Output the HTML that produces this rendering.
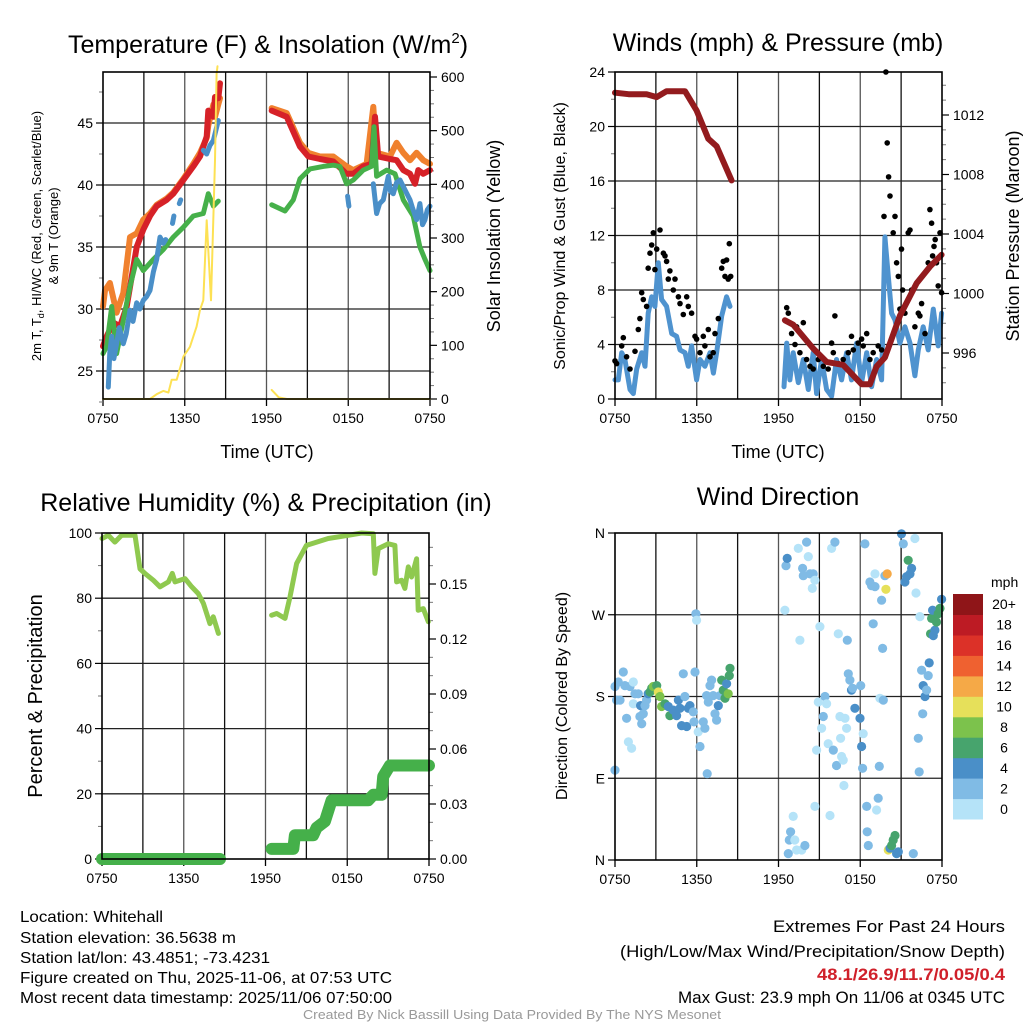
<!DOCTYPE html>
<html><head><meta charset="utf-8"><style>
html,body{margin:0;padding:0;background:#fff;}
svg{display:block;font-family:"Liberation Sans",Arial,sans-serif;}
.tk{font-size:14px;fill:#000;}
.ttl{font-size:25px;fill:#000;}
.ax{font-size:18px;fill:#000;}
.ft{font-family:"Liberation Sans",sans-serif;font-size:16px;fill:#000;}
.fr{font-family:"Liberation Sans",sans-serif;font-size:17px;fill:#000;}
</style></head><body>
<svg id="c" width="1024" height="1024" viewBox="0 0 1024 1024" xmlns="http://www.w3.org/2000/svg">
<text class="ttl" x="268" y="53" text-anchor="middle">Temperature (F) &amp; Insolation (W/m<tspan dy="-10" font-size="15">2</tspan><tspan dy="10">)</tspan></text>
<text class="ttl" x="778" y="51" text-anchor="middle">Winds (mph) &amp; Pressure (mb)</text>
<text class="ttl" x="266" y="511" text-anchor="middle">Relative Humidity (%) &amp; Precipitation (in)</text>
<text class="ttl" x="778" y="505" text-anchor="middle">Wind Direction</text>
<text class="ax" x="267" y="458" text-anchor="middle">Time (UTC)</text>
<text class="ax" x="778" y="458" text-anchor="middle">Time (UTC)</text>
<text font-size="13" transform="translate(41,236) rotate(-90)" text-anchor="middle">2m T, T<tspan font-size="9" dy="3">d</tspan><tspan dy="-3">, HI/WC (Red, Green, Scarlet/Blue)</tspan></text>
<text font-size="13" transform="translate(58,236) rotate(-90)" text-anchor="middle">&amp; 9m T (Orange)</text>
<text class="ax" transform="translate(500,236) rotate(-90)" text-anchor="middle">Solar Insolation (Yellow)</text>
<text font-size="16" transform="translate(565,236) rotate(-90)" text-anchor="middle">Sonic/Prop Wind &amp; Gust (Blue, Black)</text>
<text class="ax" transform="translate(1019,236) rotate(-90)" text-anchor="middle">Station Pressure (Maroon)</text>
<text font-size="20" transform="translate(42,696) rotate(-90)" text-anchor="middle">Percent &amp; Precipitation</text>
<text font-size="16" transform="translate(567,696) rotate(-90)" text-anchor="middle">Direction (Colored By Speed)</text>
<g id="foot">
<text class="ft" x="20" y="922" textLength="143" lengthAdjust="spacingAndGlyphs">Location: Whitehall</text>
<text class="ft" x="20" y="943" textLength="216" lengthAdjust="spacingAndGlyphs">Station elevation: 36.5638 m</text>
<text class="ft" x="20" y="963" textLength="250" lengthAdjust="spacingAndGlyphs">Station lat/lon: 43.4851; -73.4231</text>
<text class="ft" x="20" y="983" textLength="372" lengthAdjust="spacingAndGlyphs">Figure created on Thu, 2025-11-06, at 07:53 UTC</text>
<text class="ft" x="20" y="1003" textLength="372" lengthAdjust="spacingAndGlyphs">Most recent data timestamp: 2025/11/06 07:50:00</text>
<text class="fr" x="773" y="932" textLength="232" lengthAdjust="spacingAndGlyphs">Extremes For Past 24 Hours</text>
<text class="fr" x="620" y="957" textLength="385" lengthAdjust="spacingAndGlyphs">(High/Low/Max Wind/Precipitation/Snow Depth)</text>
<text class="fr" x="817" y="980" textLength="188" lengthAdjust="spacingAndGlyphs" font-weight="bold" style="fill:#d0202a">48.1/26.9/11.7/0.05/0.4</text>
<text class="fr" x="678" y="1003" textLength="327" lengthAdjust="spacingAndGlyphs">Max Gust: 23.9 mph On 11/06 at 0345 UTC</text>
<text x="303" y="1019" textLength="418" lengthAdjust="spacingAndGlyphs" font-size="13" fill="#999">Created By Nick Bassill Using Data Provided By The NYS Mesonet</text>
</g>
</svg>
<script>
// ---------- data ----------
const xTickLabels = ["0750","1350","1950","0150","0750"];
const xTickHours = [0,6,12,18,24];
// Temperature panel
const redT = [0,0.27,0.76,1.25,1.74,2.23,2.47,2.96,3.45,3.94,4.67,5.16,5.9,6.63,7.12,7.61,7.73,8.1,8.22,8.46,8.59,null,12.38,13.48,14.46,15.07,15.92,16.9,17.88,18.37,19.1,19.71,19.96,20.2,21.06,21.55,22.04,22.53,22.9,23.14,23.51,24];
const redV = [27.0,27.8,28.9,28.6,30.2,33.4,35.0,36.4,37.5,38.3,38.8,39.3,40.4,41.5,42.3,43.9,46.0,45.5,47.1,47.0,48.2,null,46.0,45.5,43.1,42.3,42.1,41.9,40.9,40.9,41.5,41.7,45.5,42.3,42.1,42.0,41.2,40.9,40.1,41.2,40.9,41.2];
const orangeT = [0,0.15,0.51,1.0,1.49,1.98,2.47,2.96,3.45,3.94,4.67,5.16,5.9,6.63,7.12,7.61,7.73,8.1,8.22,8.46,8.59,null,12.38,13.48,14.46,15.07,15.92,16.9,17.88,18.37,19.35,19.84,20.08,21.06,21.55,22.04,22.53,23.02,23.51,24];
const orangeV = [30.2,31.5,32.1,29.7,31.3,35.8,36.1,37.2,37.7,38.4,38.9,39.4,40.5,41.7,42.6,43.8,44.8,46.5,45.5,46.5,47.0,null,46.2,45.8,43.4,42.6,42.3,42.3,41.5,41.2,41.7,46.3,42.6,42.3,43.4,42.6,42.0,42.6,42.0,41.7];
const greenT = [0,0.27,0.64,1.0,1.49,1.98,2.47,2.96,3.69,4.43,5.16,5.9,6.63,7.36,7.73,8.1,8.46,null,12.38,13.36,13.97,14.46,15.19,16.17,16.9,17.39,17.88,18.37,19.1,19.71,19.89,20.08,20.82,21.43,22.04,22.77,23.26,23.63,24];
const greenV = [26.4,27.0,30.2,26.4,29.1,31.8,34.0,33.1,34.0,34.8,35.8,36.6,37.5,37.7,39.3,38.3,38.7,null,38.4,37.9,38.8,40.5,41.3,41.5,41.6,41.5,40.1,40.4,41.2,41.5,44.7,40.7,41.2,40.9,38.8,37.5,35.0,34.0,33.1];
const blueT = [0.39,0.5,0.64,0.8,1.0,1.2,1.49,1.7,1.98,2.2,2.47,2.7,2.96,3.2,3.45,3.7,3.94,4.18,4.43,4.6,null,5.1,5.2,null,5.6,5.7,null,7.36,7.61,7.85,8.1,8.46,null,17.95,18.05,null,19.84,20.08,20.3,20.57,20.94,21.1,21.31,21.55,21.8,22.53,22.7,23.02,23.26,23.45,23.63,23.8,24];
const blueV = [23.7,26.5,27.8,26.0,27.2,28.5,27.2,28.0,29.9,29.0,30.5,30.0,30.7,31.0,31.5,33.0,34.0,35.8,35.3,35.6,null,36.9,37.5,null,38.5,38.8,null,42.8,42.5,43.2,43.6,45.2,null,39.1,38.3,null,40.1,37.7,38.5,38.8,40.7,39.5,39.3,40.2,40.4,38.8,38.2,37.2,38.5,36.8,37.2,38.0,38.3];
const solarT = [0,3.45,3.94,4.43,4.8,5.04,5.41,5.9,6.38,6.87,7.12,7.36,7.61,7.93,8.22,8.34,8.4,null,12.38,12.9,13.5,24];
const solarV = [0,0,9,15,12,36,36,79,97,135,166,184,333,184,445,606,620,null,17,3,0,0];
// Wind panel
const windT = [0,0.24,0.49,0.73,1.1,1.34,1.59,1.96,2.2,2.44,2.69,2.93,3.18,3.42,3.79,4.16,4.52,4.77,5.14,5.38,5.62,5.99,6.24,6.6,6.97,7.22,7.46,7.83,8.19,8.44,null,12.4,12.6,12.84,13.08,13.45,13.82,14.19,14.55,14.8,15.16,15.53,15.9,16.26,16.63,17.0,17.36,17.73,18.1,18.47,18.83,19.2,19.57,19.81,20.06,20.3,20.55,20.91,21.28,21.65,22.01,22.26,22.62,22.99,23.36,23.72,23.97];
const windV = [1.4,1.4,3.4,2.9,0.7,0.4,2.2,3.4,2.4,6.3,7.5,6.8,10,7.3,6.8,4.8,4.6,3.6,3.4,2.4,3.9,1.4,2.9,2.4,3.4,1.9,3.4,6.1,7.5,6.8,null,0.9,4.1,1.4,3.4,1.2,2.9,0.7,3.4,0.4,2.9,0.7,0.2,2.9,1.4,3.4,1.4,4.1,1.2,3.4,0.9,2.9,1.4,11.9,9.0,6.3,5.8,4.1,5.3,4.1,1.7,3.6,5.3,3.6,6.6,3.9,6.3];
const gustT = [0,0.12,0.49,0.61,0.85,1.1,1.47,1.71,1.83,1.96,2.08,2.32,2.44,2.57,2.69,2.81,2.93,3.06,3.3,3.55,3.67,3.79,3.91,4.03,4.28,4.4,4.65,4.77,5.01,5.26,5.38,5.62,5.87,5.99,6.24,6.48,6.6,6.85,6.97,7.21,7.34,7.58,7.83,7.95,8.07,8.19,8.31,8.39,8.49,
 12.6,12.72,12.96,13.21,13.33,13.57,13.82,14.06,14.31,14.55,14.92,15.29,15.65,15.9,16.02,16.14,16.39,16.75,17.12,17.36,17.49,17.85,18.1,18.22,18.47,18.71,18.95,19.32,19.57,19.74,19.88,19.98,20.08,20.18,20.42,20.55,20.67,20.79,20.91,21.03,21.11,21.28,21.52,21.65,21.77,22.01,22.26,22.38,22.5,22.75,22.99,23.11,23.24,23.31,23.41,23.5,23.6,23.72,23.85,23.97];
const gustV = [2.8,2.6,3.9,4.5,3.1,2.2,3.5,5.1,5.9,7.8,7.3,6.8,9.6,10.7,11.3,12.2,9.5,11,12.4,10.7,10.5,10.1,8.8,9.4,8,8.8,7.5,7,6.2,7.5,6.8,6.3,4.6,4.4,3.4,4.6,3.9,5.1,3.1,3.4,4.8,5.9,9.6,10.1,9,10.2,8.8,11.4,9,
 6.7,6.3,4.8,4,5.3,3.4,5.6,2.9,2.4,2.2,2.9,2.4,2.2,4.1,3.4,6.1,2.6,2.9,3.4,4.6,3.6,4.1,4.4,3.9,4.8,2.9,3.4,3.9,3.6,13.4,24,18.8,16.3,14.9,12.2,13.4,10,9,6.6,11,8,6.3,12.2,12.4,8,5.3,6.3,6.1,7,4.8,10,13.9,12.9,10.5,11.2,11.7,10,8.3,12.2,7.8];
const presT = [0,1.0,2.32,3.06,3.79,5.14,5.99,6.85,7.46,8.56,null,12.47,13.08,14.55,15.53,16.75,18.1,18.71,19.2,19.81,20.91,22.14,23.11,23.97];
const presV = [1013.5,1013.4,1013.4,1013.2,1013.6,1013.6,1012.3,1010.4,1009.9,1007.6,null,998.2,997.9,996.3,995.4,995.2,993.9,993.9,995.1,995.7,998.5,1000.7,1001.8,1002.6];
// RH / precip panel
const rhT = [0,0.46,0.95,1.44,1.93,2.42,2.79,3.15,3.77,4.26,4.87,5.16,5.36,6.09,6.58,7.07,7.44,7.92,8.17,8.54,null,12.45,12.82,13.43,13.8,14.28,15.0,16.6,18.08,19.05,19.91,20.03,20.28,21.01,21.5,21.62,21.99,22.23,22.48,22.72,23.09,23.21,23.58,23.95];
const rhV = [98.3,99.3,97.2,99.3,99.3,99.3,89,87.6,85.5,83.5,85,87.6,85,86,83.5,81.4,78.4,72.2,74.3,69.2,null,74.8,75.3,73.8,80.4,90.6,96.2,98.3,99.3,100,99.8,87.6,95.2,96.7,96.2,85,85.5,83,89.6,86.5,92.1,76.3,76.8,72.8];
const prT = [0,8.66,null,12.45,14.04,14.16,15.5,15.75,16.36,16.85,19.54,19.91,20.52,20.64,21.13,24];
const prV = [0,0,null,0.0055,0.0055,0.013,0.013,0.017,0.0205,0.032,0.032,0.035,0.035,0.045,0.051,0.051];
// Wind direction panel
const dirT = [0,0,0.12,0.24,0.37,0.61,0.73,0.85,0.98,1.1,1.22,1.34,1.34,1.47,1.71,1.83,1.88,1.96,2.08,2.2,2.32,2.44,2.57,2.69,2.81,3.06,3.18,3.3,3.42,3.67,3.91,4.03,4.28,4.52,4.65,4.77,4.89,5.01,5.13,5.26,5.38,5.5,5.75,5.8,5.87,5.94,5.99,6.11,6.24,6.48,6.6,6.72,6.77,6.85,6.97,7.09,7.21,7.34,7.46,7.58,7.7,7.83,7.95,8.07,8.19,8.31,8.39,8.44,
 12.47,12.55,12.64,12.72,12.79,12.89,13.08,13.2,13.33,13.45,13.57,13.7,13.77,13.82,13.94,14.06,14.19,14.31,14.55,14.67,14.48,14.67,14.8,14.92,15.04,15.16,15.29,15.41,15.53,15.65,15.78,15.9,16.02,16.14,16.26,16.39,16.51,16.56,16.63,16.75,16.8,16.88,17.0,17.05,17.12,17.24,17.36,17.44,17.61,17.98,18.03,18.1,18.17,18.22,18.34,18.47,18.51,18.59,18.71,18.83,18.95,19.08,19.08,19.2,19.32,19.4,19.44,19.57,19.64,19.69,19.81,19.88,19.98,20.06,20.18,20.3,20.42,20.55,20.67,20.79,21.03,21.16,21.28,21.4,21.52,21.65,21.77,21.89,22.01,22.09,22.26,22.33,22.38,22.5,22.58,22.62,22.75,22.87,22.99,23.06,23.16,23.24,23.31,23.36,23.48,23.6,23.72,23.85,23.97];
const dirDeg = [99,191,176,196,176,207,192,156,130,191,123,196,172,183,183,158,170,150,161,170,176,183,185,189,191,192,185,180,169,172,169,159,165,159,176,167,148,205,180,147,167,170,163,152,207,271,264,141,125,152,145,181,95,174,192,198,181,161,154,170,181,198,187,178,194,183,203,211,
 275,324,332,7,22,31,48,22,11,343,242,11,321,313,16,350,334,315,315,308,299,59,121,174,257,145,158,180,172,128,49,343,121,350,104,249,158,134,114,110,82,156,145,242,205,198,187,189,167,156,192,125,101,139,348,59,31,16,306,302,260,301,315,55,68,103,178,286,233,176,313,298,315,11,13,16,22,27,7,9,359,348,306,312,330,315,321,7,354,294,134,97,268,209,161,192,180,187,203,217,249,266,275,247,253,262,271,277,287];
const dirSpd = [3,2,2,2,2,2,2,2,1,2,1,1,1,2,2,2,4,2,2,2,2,4,6,6,8,6,10,8,8,6,4,6,4,4,4,4,4,2,2,4,4,4,2,2,2,2,1,1,2,2,2,2,2,2,2,2,2,2,2,4,2,6,6,6,4,8,6,6,
 1,2,4,2,2,2,1,1,1,1,1,1,2,2,2,2,1,2,2,1,1,1,1,1,1,1,2,2,1,1,1,1,2,2,2,1,1,1,1,1,1,1,1,2,2,2,4,2,4,4,2,4,2,1,2,2,2,2,2,2,2,2,1,1,2,2,1,2,2,2,2,10,12,10,4,6,6,6,4,4,4,2,4,4,6,4,4,2,1,1,2,2,1,2,2,4,4,2,2,4,6,6,4,4,4,6,6,6,4];
const speedColors = ["#b5e3f8","#80bbe5","#4a8fc8","#47a46d","#7cc24c","#e6e05a","#f5a947","#ef6130","#dc3128","#bd1b24","#8f1518"];
const speedLabels = ["0","2","4","6","8","10","12","14","16","18","20+"];

// ---------- helpers ----------
const svg = document.getElementById('c');
const NS = 'http://www.w3.org/2000/svg';
function mk(tag, attrs, parent){ const e=document.createElementNS(NS,tag); for(const k in attrs) e.setAttribute(k,attrs[k]); (parent||svg).appendChild(e); return e; }
function lin(d0,d1,r0,r1){ return v => r0 + (v-d0)/(d1-d0)*(r1-r0); }
function pathD(ts, vs, sx, sy){ let d='', pen=false; for(let i=0;i<ts.length;i++){ if(ts[i]===null||vs[i]===null){pen=false;continue;} d += (pen?'L':'M')+sx(ts[i]).toFixed(1)+','+sy(vs[i]).toFixed(1); pen=true; } return d; }

function frame(L,T,R,B,name){
  const g = mk('g',{});
  
  
  return g;
}
function vgrid(g,L,T,R,B,sx){
  for(let h=3;h<24;h+=3){ const x=sx(h); const l=mk('line',{x1:x,y1:T,x2:x,y2:B,stroke:(h%6===0?'#555':'#111'),'stroke-width':1.3},g);   }
  xTickHours.forEach((h,i)=>{ const x=sx(h); mk('line',{x1:x,y1:B,x2:x,y2:B+7,stroke:'#000','stroke-width':1.3},g);
    const t=mk('text',{x:x,y:B+24,'text-anchor':'middle',class:'tk'},g); t.textContent=xTickLabels[i];
      });
}
function hgrid(g,L,R,ys){ ys.forEach(y=>{ const l=mk('line',{x1:L,y1:y,x2:R,y2:y,stroke:'#222','stroke-width':1.3},g);   }); }
function leftTicks(g,L,vals,sy,labels,minor){
  vals.forEach((v,i)=>{ const y=sy(v); mk('line',{x1:L-7,y1:y,x2:L,y2:y,stroke:'#000','stroke-width':1.2},g);
    const t=mk('text',{x:L-10,y:y+5,'text-anchor':'end',class:'tk'},g); t.textContent=labels[i];
      });
  (minor||[]).forEach(v=>{ const y=sy(v); mk('line',{x1:L-4,y1:y,x2:L,y2:y,stroke:'#777','stroke-width':1},g); });
}
function rightTicks(g,R,vals,sy,labels,minor){
  vals.forEach((v,i)=>{ const y=sy(v); mk('line',{x1:R,y1:y,x2:R+7,y2:y,stroke:'#000','stroke-width':1.2},g);
    const t=mk('text',{x:R+11,y:y+5,'text-anchor':'start',class:'tk'},g); t.textContent=labels[i];
      });
  (minor||[]).forEach(v=>{ const y=sy(v); mk('line',{x1:R,y1:y,x2:R+4,y2:y,stroke:'#777','stroke-width':1},g); });
}
function border(g,L,T,R,B){ const r=mk('rect',{x:L,y:T,width:R-L,height:B-T,fill:'none',stroke:'#000','stroke-width':1.6},g);   }
function series(g,ts,vs,sx,sy,color,w,name){ const p=mk('path',{d:pathD(ts,vs,sx,sy),fill:'none',stroke:color,'stroke-width':w,'stroke-linejoin':'round','stroke-linecap':'round'},g);   return p; }
function range(a,b,s){ const r=[]; for(let v=a;v<=b+1e-9;v+=s) r.push(+v.toFixed(4)); return r; }

// ---------- Panel 1: temperature ----------
(function(){
  const L=103,T=72,R=430,B=399;
  const g=frame(L,T,R,B,'temperature-panel');
  const sx=lin(0,24,L,R), sy=lin(25,45,371,123), sS=lin(0,600,399,77);
  vgrid(g,L,T,R,B,sx); hgrid(g,L,R,[25,30,35,40,45].map(sy));
  leftTicks(g,L,[25,30,35,40,45],sy,['25','30','35','40','45'],range(22.5,47.5,2.5).filter(v=>v%5!==0));
  rightTicks(g,R,[0,100,200,300,400,500,600],sS,['0','100','200','300','400','500','600'],range(25,600,25).filter(v=>v%100!==0));
  series(g,orangeT,orangeV,sx,sy,'#f0812e',6,'temp-9m-line');
  series(g,redT,redV,sx,sy,'#d62128',6,'temp-2m-line');
  series(g,greenT,greenV,sx,sy,'#46b04a',5,'dewpoint-line');
  series(g,blueT,blueV,sx,sy,'#4a8fc8',5,'windchill-line');
  series(g,solarT,solarV,sx,sS,'#fde154',2,'solar-insolation-line');
  border(g,L,T,R,B);
})();

// ---------- Panel 2: winds ----------
(function(){
  const L=615,T=72,R=942,B=399;
  const g=frame(L,T,R,B,'winds-panel');
  const sx=lin(0,24,L,R), sy=lin(0,24,B,T), sP=lin(996,1012,353,115);
  vgrid(g,L,T,R,B,sx); hgrid(g,L,R,[4,8,12,16,20].map(sy));
  leftTicks(g,L,[0,4,8,12,16,20,24],sy,['0','4','8','12','16','20','24'],[2,6,10,14,18,22]);
  rightTicks(g,R,[996,1000,1004,1008,1012],sP,['996','1000','1004','1008','1012'],range(994,1014,1).filter(v=>v%4!==0));
  series(g,windT,windV,sx,sy,'#4f93cf',5,'sonic-wind-line');
  for(let i=0;i<gustT.length;i++){
    const c=mk('circle',{cx:sx(gustT[i]).toFixed(1),cy:sy(gustV[i]).toFixed(1),r:2.8,fill:'#000'},g);
    
    
  }
  series(g,presT,presV,sx,sP,'#931b1e',6,'pressure-line');
  border(g,L,T,R,B);
})();

// ---------- Panel 3: RH / precip ----------
(function(){
  const L=102,T=533,R=429,B=859;
  const g=frame(L,T,R,B,'humidity-panel');
  const sx=lin(0,24,L,R), sy=lin(0,100,B,T), sP=lin(0,0.03,B,804);
  vgrid(g,L,T,R,B,sx); hgrid(g,L,R,[20,40,60,80].map(sy));
  leftTicks(g,L,[0,20,40,60,80,100],sy,['0','20','40','60','80','100'],[10,30,50,70,90]);
  rightTicks(g,R,[0,0.03,0.06,0.09,0.12,0.15],sP,['0.00','0.03','0.06','0.09','0.12','0.15'],range(0.01,0.17,0.01).filter(v=>Math.abs(v*100%3)>0.01 && Math.abs(v*100%3-3)>0.01));
  series(g,prT,prV,sx,sP,'#45b04a',12,'precipitation-line');
  series(g,rhT,rhV,sx,sy,'#8fc94f',5,'relative-humidity-line');
  border(g,L,T,R,B);
})();

// ---------- Panel 4: wind direction ----------
(function(){
  const L=615,T=533,R=942,B=860;
  const g=frame(L,T,R,B,'wind-direction-panel');
  const sx=lin(0,24,L,R), sy=lin(0,360,B,T);
  vgrid(g,L,T,R,B,sx); hgrid(g,L,R,[90,180,270].map(sy));
  leftTicks(g,L,[0,90,180,270,360],sy,['N','E','S','W','N'],[]);
  for(let i=0;i<dirT.length;i++){
    const c=mk('circle',{cx:sx(dirT[i]).toFixed(1),cy:sy(dirDeg[i]).toFixed(1),r:4.6,fill:speedColors[Math.min(10,Math.floor(dirSpd[i]/2))]},g);
    
    
  }
  border(g,L,T,R,B);
  // colorbar
  const cb=mk('g',{});
  
  
  const cbT=594, cbB=819, h=(cbB-cbT)/speedColors.length;
  speedColors.forEach((col,i)=>{
    const y=cbB-(i+1)*h;
    const r=mk('rect',{x:953,y:y.toFixed(1),width:30,height:(h+0.5).toFixed(1),fill:col},cb);
    
    
    const t=mk('text',{x:1004,y:(y+h/2+5).toFixed(1),'text-anchor':'middle',class:'tk'},cb); t.textContent=speedLabels[i];
    
    
  });
  const u=mk('text',{x:991,y:587,class:'tk'},cb); u.textContent='mph';
  
  
})();
</script>
</body></html>
